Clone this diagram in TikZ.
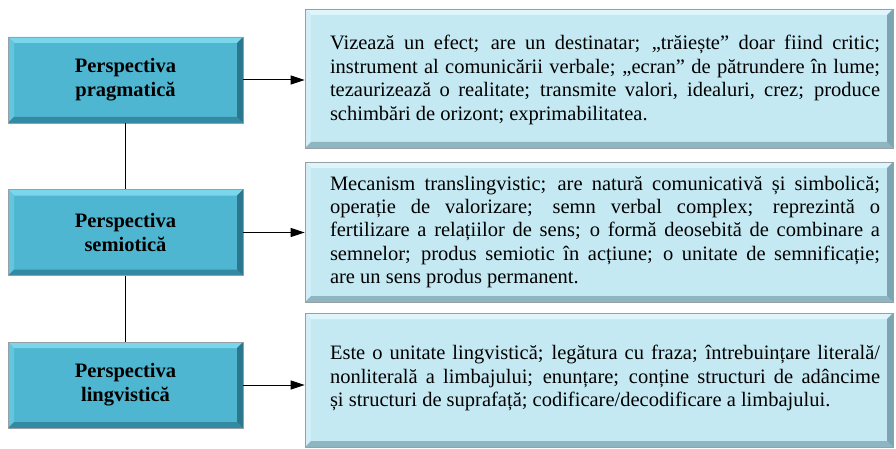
\documentclass[tikz,border=0pt]{standalone}
\usepackage{fontspec}
\setmainfont{Liberation Serif}
\usetikzlibrary{arrows.meta}

\definecolor{perspfill}{RGB}{78,182,208}
\definecolor{persptop}{RGB}{122,214,235}
\definecolor{perspleft}{RGB}{98,198,222}
\definecolor{perspbot}{RGB}{52,138,163}
\definecolor{perspright}{RGB}{44,118,142}
\definecolor{descfill}{RGB}{196,233,243}
\definecolor{desctop}{RGB}{222,245,251}
\definecolor{descleft}{RGB}{210,239,247}
\definecolor{descbot}{RGB}{142,182,194}
\definecolor{descright}{RGB}{124,164,178}
\definecolor{edge}{RGB}{150,160,165}

\tikzset{
  bevel/.style n args={4}{path picture={
    \coordinate (nw) at (path picture bounding box.north west);
    \coordinate (ne) at (path picture bounding box.north east);
    \coordinate (sw) at (path picture bounding box.south west);
    \coordinate (se) at (path picture bounding box.south east);
    \fill[#1] (nw) -- (ne) -- ([shift={(-6pt,-6pt)}]ne) -- ([shift={(6pt,-6pt)}]nw) -- cycle;
    \fill[#2] (nw) -- (sw) -- ([shift={(6pt,6pt)}]sw) -- ([shift={(6pt,-6pt)}]nw) -- cycle;
    \fill[#3] (sw) -- (se) -- ([shift={(-6pt,6pt)}]se) -- ([shift={(6pt,6pt)}]sw) -- cycle;
    \fill[#4] (se) -- (ne) -- ([shift={(-6pt,-6pt)}]ne) -- ([shift={(-6pt,6pt)}]se) -- cycle;
  }},
  persp/.style={draw=edge, line width=0.8pt, fill=perspfill,
    bevel={persptop}{perspleft}{perspbot}{perspright},
    minimum width=235pt, minimum height=86pt, align=center,
    font=\bfseries\fontsize{20.5}{24}\selectfont},
  descbox/.style={draw=edge, line width=0.8pt, fill=descfill,
    bevel={desctop}{descleft}{descbot}{descright}, minimum width=588pt},
  desc/.style={text width=550pt, inner sep=0pt, align=justify,
    font=\fontsize{20.5}{23.4}\selectfont},
  link/.style={line width=1pt},
  tip/.style={line width=1pt, -{Triangle[length=14pt,width=9pt]}}
}

\begin{document}
\begin{tikzpicture}[x=1pt,y=1pt]
\useasboundingbox (0,0) rectangle (896,-449);

% perspectives
\node[persp] (l1) at (125.5,-80) {Perspectiva\\pragmatică};
\node[persp] (l2) at (125.5,-232.5) {Perspectiva\\semiotică};
\node[persp] (l3) at (125.5,-385) {Perspectiva\\lingvistică};

% description boxes
\node[descbox, minimum height=139pt] (r1) at (599,-78.5) {};
\node[descbox, minimum height=140pt] (r2) at (599,-232) {};
\node[descbox, minimum height=134pt] (r3) at (599,-380) {};

% description texts
\node[desc] (t1) at ([xshift=6pt,yshift=-1.5pt]r1) {Vizează un efect; are un destinatar; „trăiește” doar fiind critic;\linebreak
instrument al comunicării verbale; „ecran” de pătrundere în lume;\linebreak
tezaurizează o realitate; transmite valori, idealuri, crez; produce\linebreak
schimbări de orizont; exprimabilitatea.};
\node[desc] (t2) at ([xshift=6pt]r2) {Mecanism translingvistic; are natură comunicativă și simbolică;\linebreak
operație de valorizare; semn verbal complex; reprezintă o\linebreak
fertilizare a relațiilor de sens; o formă deosebită de combinare a\linebreak
semnelor; produs semiotic în acțiune; o unitate de semnificație;\linebreak
are un sens produs permanent.};
\node[desc] (t3) at ([xshift=6pt,yshift=2pt]r3) {Este o unitate lingvistică; legătura cu fraza; întrebuințare literală/\linebreak
nonliterală a limbajului; enunțare; conține structuri de adâncime\linebreak
și structuri de suprafață; codificare/decodificare a limbajului.};

% connectors
\draw[link] (l1) -- (l2);
\draw[link] (l2) -- (l3);
\draw[tip] (l1.east) -- (l1.east -| r1.west);
\draw[tip] (l2.east) -- (l2.east -| r2.west);
\draw[tip] (l3.east) -- (l3.east -| r3.west);
\end{tikzpicture}
\end{document}
